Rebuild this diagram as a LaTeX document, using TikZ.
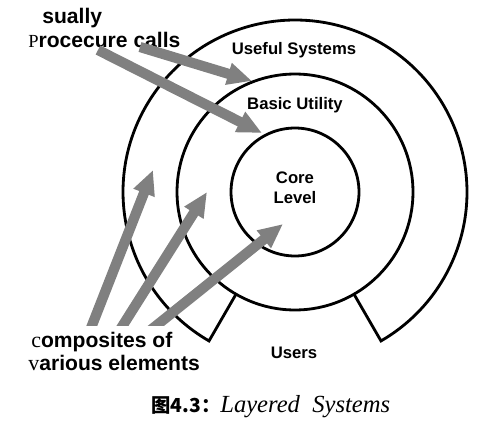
\documentclass[tikz,border=0pt]{standalone}
\usepackage{fontspec}
\setmainfont{Liberation Serif}
\setsansfont{Liberation Sans}
\newfontfamily\cjk{Noto Sans CJK SC}
\usetikzlibrary{arrows.meta}
\definecolor{arrowgray}{RGB}{128,128,128}
\newcommand{\oddletter}[2][10]{{\rmfamily\mdseries\fontsize{#1}{#1}\selectfont #2}}

\begin{document}
\begin{tikzpicture}[x=0.02cm,y=-0.02cm,
  ring/.style={line width=1.6pt},
  fatarrow/.style={draw=arrowgray,line width=5.8pt,-{Triangle[width=12pt,length=14pt]}},
  lbl/.style={font=\sffamily\bfseries\fontsize{9.5}{11.5}\selectfont,align=center},
  note/.style={font=\sffamily\bfseries\fontsize{12}{14}\selectfont,anchor=west,inner sep=0pt}]
\useasboundingbox (0,0) rectangle (489,429);

\coordinate (c) at (295,192);

% the three layers
\draw[ring] (c) circle[radius=1.28cm];
\draw[ring] (c) circle[radius=2.36cm];
\draw[ring] ([shift={(240:2.36cm)}]c) -- ([shift={(240:3.44cm)}]c)
  arc[start angle=240,end angle=-60,radius=3.44cm] -- ([shift={(-60:2.36cm)}]c);

\node[lbl] (useful) at (294,50) {Useful Systems};
\node[lbl] (basic) at (295,105) {Basic Utility};
\node[lbl] (corelevel) at (295,188) {Core\\Level};
\node[lbl] (users) at (294,353) {Users};

\node[note] (sually) at (42,18) {sually};
\node[note] (proc) at (28,40) {\oddletter[10.5]{P}rocecure calls};
\node[note] (compo) at (31,342) {\oddletter[12.5]{c}omposites of};
\node[note] (vario) at (28,363) {\oddletter[12.5]{v}arious elements};

\node[anchor=west,inner sep=0pt] (caption) at (151,407)
  {{\cjk\bfseries\fontsize{11}{12}\selectfont 图4.3：}{\itshape\fontsize{14}{16}\selectfont Layered\ \ Systems}};

% procedure calls
\coordinate (call1) at (140,47);
\coordinate (call2) at (98,50);
\coordinate (tipbasic) at (252,81);
\coordinate (tipcore) at (262,133);
\draw[fatarrow] (call1) -- (tipbasic);
\draw[fatarrow] (call2) -- (tipcore);

% composites
\coordinate (comp1) at (89,333);
\coordinate (comp2) at (118,333);
\coordinate (comp3) at (147,333);
\coordinate (tip1) at (153,170);
\coordinate (tip2) at (207,192);
\coordinate (tip3) at (283,224);
\begin{scope}
\clip (0,0) rectangle (489,325);
\foreach \i in {1,2,3}
  \draw[fatarrow] (comp\i) -- (tip\i);
\end{scope}

\end{tikzpicture}
\end{document}
